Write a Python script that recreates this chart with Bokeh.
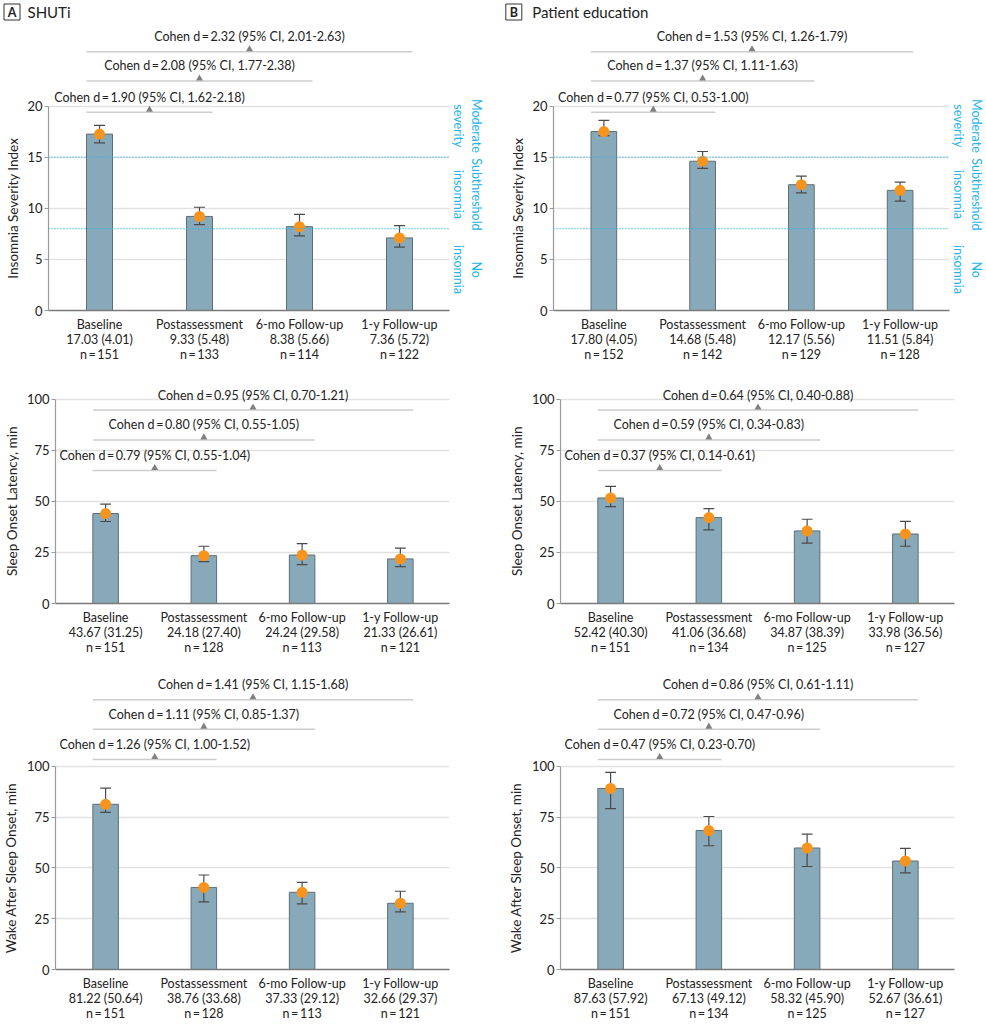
from bokeh.plotting import figure
from bokeh.layouts import column, row
from bokeh.models import Range1d, FixedTicker, Span, LinearAxis
from bokeh.embed import file_html
from bokeh.resources import INLINE
from bokeh.core.properties import value

# ---------------- data ----------------
categories = ["Baseline", "Postassessment", "6-mo Follow-up", "1-y Follow-up"]

# SHUTi - Insomnia Severity Index
shuti_isi_est = [17.25, 9.2, 8.2, 7.1]
shuti_isi_lo = [16.4, 8.4, 7.3, 6.2]
shuti_isi_hi = [18.1, 10.1, 9.4, 8.3]
shuti_isi_mean = ["17.03", "9.33", "8.38", "7.36"]
shuti_isi_sd = ["4.01", "5.48", "5.66", "5.72"]
shuti_isi_n = [151, 133, 114, 122]
shuti_isi_d = [("1.90", "1.62", "2.18"), ("2.08", "1.77", "2.38"), ("2.32", "2.01", "2.63")]

# SHUTi - Sleep Onset Latency
shuti_sol_est = [44.0, 23.4, 23.7, 21.8]
shuti_sol_lo = [40.1, 20.5, 19.0, 18.0]
shuti_sol_hi = [48.6, 28.0, 29.3, 27.1]
shuti_sol_mean = ["43.67", "24.18", "24.24", "21.33"]
shuti_sol_sd = ["31.25", "27.40", "29.58", "26.61"]
shuti_sol_n = [151, 128, 113, 121]
shuti_sol_d = [("0.79", "0.55", "1.04"), ("0.80", "0.55", "1.05"), ("0.95", "0.70", "1.21")]

# SHUTi - Wake After Sleep Onset
shuti_waso_est = [81.3, 40.4, 38.0, 32.6]
shuti_waso_lo = [77.3, 33.3, 32.3, 28.4]
shuti_waso_hi = [89.3, 46.5, 42.9, 38.5]
shuti_waso_mean = ["81.22", "38.76", "37.33", "32.66"]
shuti_waso_sd = ["50.64", "33.68", "29.12", "29.37"]
shuti_waso_n = [151, 128, 113, 121]
shuti_waso_d = [("1.26", "1.00", "1.52"), ("1.11", "0.85", "1.37"), ("1.41", "1.15", "1.68")]

# Patient education - Insomnia Severity Index
pe_isi_est = [17.5, 14.6, 12.3, 11.75]
pe_isi_lo = [17.1, 13.9, 11.5, 10.7]
pe_isi_hi = [18.6, 15.55, 13.15, 12.55]
pe_isi_mean = ["17.80", "14.68", "12.17", "11.51"]
pe_isi_sd = ["4.05", "5.48", "5.56", "5.84"]
pe_isi_n = [152, 142, 129, 128]
pe_isi_d = [("0.77", "0.53", "1.00"), ("1.37", "1.11", "1.63"), ("1.53", "1.26", "1.79")]

# Patient education - Sleep Onset Latency
pe_sol_est = [51.6, 42.0, 35.5, 34.0]
pe_sol_lo = [47.4, 36.0, 29.5, 28.0]
pe_sol_hi = [57.3, 46.4, 41.2, 40.2]
pe_sol_mean = ["52.42", "41.06", "34.87", "33.98"]
pe_sol_sd = ["40.30", "36.68", "38.39", "36.56"]
pe_sol_n = [151, 134, 125, 127]
pe_sol_d = [("0.37", "0.14", "0.61"), ("0.59", "0.34", "0.83"), ("0.64", "0.40", "0.88")]

# Patient education - Wake After Sleep Onset
pe_waso_est = [89.1, 68.4, 59.8, 53.4]
pe_waso_lo = [79.2, 60.9, 50.7, 47.6]
pe_waso_hi = [97.0, 75.3, 66.6, 59.6]
pe_waso_mean = ["87.63", "67.13", "58.32", "52.67"]
pe_waso_sd = ["57.92", "49.12", "45.90", "36.61"]
pe_waso_n = [151, 134, 125, 127]
pe_waso_d = [("0.47", "0.23", "0.70"), ("0.72", "0.47", "0.96"), ("0.86", "0.61", "1.11")]

isi_ticks = [0, 5, 10, 15, 20]
min_ticks = [0, 25, 50, 75, 100]
isi_cutoffs = [8, 15]
isi_band_word1 = ["No", "Subthreshold", "Moderate"]
isi_band_word2 = ["insomnia", "insomnia", "severity"]
isi_band_mid = [4, 11.35, 18.05]

panel_letters = ["A", "B"]
panel_names = ["SHUTi", "Patient education"]

# ---------------- styling / layout ----------------
FONT = "Lato"
TXT = "#222222"
BAR = "#87a9b9"
BAR_LINE = "#5f6e76"
ERR = "#4a4a4a"
DOT = "#f7941d"
GRID = "#e2e2e2"
BRACKET = "#cdcdcd"
TRI = "#808080"
CYAN = "#25b3ec"
PX_PER_FULL = 204.5
EQ = "\u2009=\u2009"

ROWS = [
    dict(height=342, frame_h=286, bottom=56, full=20, ticks=isi_ticks,
         label="Insomnia Severity Index", levels=[19.4, 22.45, 25.3]),
    dict(height=294, frame_h=237, bottom=57, full=100, ticks=min_ticks,
         label="Sleep Onset Latency, min", levels=[65.0, 80.0, 94.6]),
    dict(height=364, frame_h=311, bottom=53, full=100, ticks=min_ticks,
         label="Wake After Sleep Onset, min", levels=[103.4, 118.3, 132.8]),
]
WIDTHS = [505, 481]


def make_header():
    h = figure(width=986, height=24, x_range=Range1d(0, 986), y_range=Range1d(0, 24),
               output_backend="svg", toolbar_location=None,
               min_border_left=0, min_border_right=0, min_border_top=0, min_border_bottom=0)
    h.axis.visible = False
    h.grid.visible = False
    h.outline_line_color = None
    box_x = [11.5, 513.3]
    name_x = [27, 531.7]
    h.rect(x=box_x, y=[12.5, 12.5], width=16, height=16, fill_color=None,
           line_color="#333333", line_width=1)
    h.text(x=box_x, y=[12.2, 12.2], text=panel_letters, text_align="center",
           text_baseline="middle", text_font=value(FONT), text_font_size="12.5px",
           text_font_style="bold", text_color=TXT)
    h.text(x=name_x, y=[12.5, 12.5], text=panel_names, text_align="left",
           text_baseline="middle", text_font=value(FONT), text_font_size="15px",
           text_color=TXT)
    return h


def label_axis(ticks, labels, color, size, standoff):
    return LinearAxis(ticker=FixedTicker(ticks=ticks),
                      major_label_overrides=dict(zip(ticks, labels)),
                      major_label_orientation="parallel",
                      major_label_text_font=FONT, major_label_text_font_size=size,
                      major_label_text_color=color, major_label_text_line_height=1.0,
                      major_label_standoff=standoff,
                      axis_line_color=None, major_tick_line_color=None,
                      major_tick_out=0, major_tick_in=0, minor_tick_line_color=None)


def make_panel(col, r, est, lo, hi, means, sds, ns, cohen):
    cfg = ROWS[r]
    upp = cfg["full"] / PX_PER_FULL
    width = WIDTHS[col]
    p = figure(width=width, height=cfg["height"],
               x_range=Range1d(-0.51, 3.50),
               y_range=Range1d(0, cfg["frame_h"] * upp),
               output_backend="svg", toolbar_location=None,
               min_border_left=48, min_border_right=width - 449,
               min_border_top=0, min_border_bottom=cfg["bottom"])
    p.outline_line_color = None
    p.background_fill_color = "white"
    p.border_fill_color = "white"

    # grid
    p.xgrid.grid_line_color = None
    p.ygrid.ticker = FixedTicker(ticks=cfg["ticks"])
    p.ygrid.grid_line_color = GRID
    p.ygrid.grid_line_width = 1.5

    # y axis (ticks)
    ya = p.yaxis[0]
    ya.ticker = FixedTicker(ticks=cfg["ticks"])
    ya.bounds = (0, cfg["full"])
    ya.major_label_text_font = FONT
    ya.major_label_text_font_size = "13px"
    ya.major_label_text_color = TXT
    ya.major_label_standoff = 2
    ya.axis_line_color = "#9a9a9a"
    ya.axis_line_width = 1.2
    ya.major_tick_line_color = "#9a9a9a"
    ya.major_tick_out = 4
    ya.major_tick_in = 0
    ya.minor_tick_line_color = None

    # y axis title, centred on the scale (0..full)
    mid = cfg["full"] // 2
    p.add_layout(label_axis([mid], [cfg["label"]], TXT, "13.5px", 4), "left")

    # x axis
    xs = list(range(len(categories)))
    xa = p.xaxis[0]
    xa.ticker = FixedTicker(ticks=xs)
    xa.major_label_overrides = {
        i: f"{categories[i]}\n{means[i]} ({sds[i]})\nn{EQ}{ns[i]}" for i in xs
    }
    xa.major_label_text_font = FONT
    xa.major_label_text_font_size = "12.5px"
    xa.major_label_text_line_height = 1.03
    xa.major_label_text_color = TXT
    xa.major_label_standoff = 6
    xa.major_tick_line_color = None
    xa.major_tick_out = 0
    xa.major_tick_in = 0
    xa.minor_tick_line_color = None
    xa.axis_line_color = "#7a7a7a"
    xa.axis_line_width = 1.5

    # ISI cut-offs and severity bands
    if r == 0:
        for c in isi_cutoffs:
            p.add_layout(Span(location=c, dimension="width", line_color=CYAN,
                              line_width=1.3, line_dash="1 2"))
        p.add_layout(label_axis(isi_band_mid, isi_band_word2, CYAN, "12.5px", 1), "right")
        p.add_layout(label_axis(isi_band_mid, isi_band_word1, CYAN, "12.5px", 0), "right")

    # bars
    p.vbar(x=xs, top=est, bottom=0, width=0.26, fill_color=BAR,
           line_color=BAR_LINE, line_width=1)
    # error bars
    p.segment(x0=xs, y0=lo, x1=xs, y1=hi, line_color=ERR, line_width=1.2)
    p.segment(x0=[x - 0.055 for x in xs], y0=hi, x1=[x + 0.055 for x in xs],
              y1=hi, line_color=ERR, line_width=1.2)
    p.segment(x0=[x - 0.055 for x in xs], y0=lo, x1=[x + 0.055 for x in xs],
              y1=lo, line_color=ERR, line_width=1.2)
    # mean dots
    p.scatter(x=xs, y=est, size=11, fill_color=DOT, line_color=None)

    # Cohen d brackets (baseline vs each later time point)
    lv = cfg["levels"]
    ks = [1, 2, 3]
    p.segment(x0=[-0.13] * 3, y0=lv, x1=[k + 0.13 for k in ks], y1=lv,
              line_color=BRACKET, line_width=1.5)
    p.scatter(x=[k / 2 for k in ks], y=[l + 2.5 * upp for l in lv],
              marker="triangle", size=7, fill_color=TRI, line_color=None)
    p.text(x=[k / 2 for k in ks], y=[l + 15 * upp for l in lv],
           text=[f"Cohen d{EQ}{d} (95% CI, {a}-{b})" for d, a, b in cohen],
           text_align="center", text_baseline="middle",
           text_font=value(FONT), text_font_size="12.5px", text_color=TXT)
    return p


header = make_header()
pA1 = make_panel(0, 0, shuti_isi_est, shuti_isi_lo, shuti_isi_hi, shuti_isi_mean, shuti_isi_sd, shuti_isi_n, shuti_isi_d)
pB1 = make_panel(1, 0, pe_isi_est, pe_isi_lo, pe_isi_hi, pe_isi_mean, pe_isi_sd, pe_isi_n, pe_isi_d)
pA2 = make_panel(0, 1, shuti_sol_est, shuti_sol_lo, shuti_sol_hi, shuti_sol_mean, shuti_sol_sd, shuti_sol_n, shuti_sol_d)
pB2 = make_panel(1, 1, pe_sol_est, pe_sol_lo, pe_sol_hi, pe_sol_mean, pe_sol_sd, pe_sol_n, pe_sol_d)
pA3 = make_panel(0, 2, shuti_waso_est, shuti_waso_lo, shuti_waso_hi, shuti_waso_mean, shuti_waso_sd, shuti_waso_n, shuti_waso_d)
pB3 = make_panel(1, 2, pe_waso_est, pe_waso_lo, pe_waso_hi, pe_waso_mean, pe_waso_sd, pe_waso_n, pe_waso_d)

layout = column(header,
                row(pA1, pB1, spacing=0), row(pA2, pB2, spacing=0),
                row(pA3, pB3, spacing=0), spacing=0)

open("out.html", "w").write(file_html(layout, INLINE))
